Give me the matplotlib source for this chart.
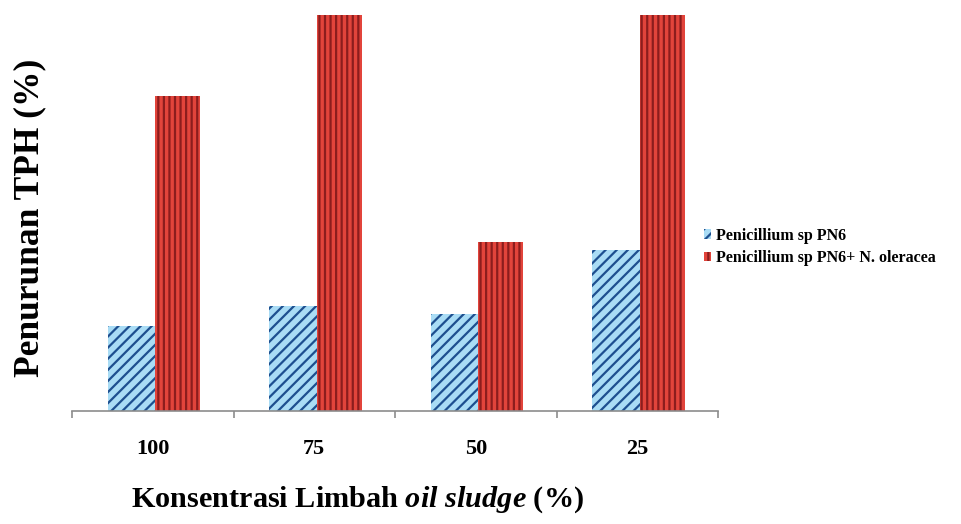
import numpy as np
import matplotlib.pyplot as plt
from matplotlib.ticker import FixedLocator

# data (percent reduction of TPH)
konsentrasi = ['100', '75', '50', '25']
pn6 = [21.5, 26.5, 24.5, 40.7]
pn6_oleracea = [79.5, 100, 42.7, 100]

plt.rcParams['font.family'] = ['Liberation Serif', 'DejaVu Serif']
plt.rcParams['font.weight'] = 'bold'
plt.rcParams['hatch.linewidth'] = 1.6
plt.rcParams['mathtext.fontset'] = 'custom'
plt.rcParams['mathtext.rm'] = 'Liberation Serif:bold'
plt.rcParams['mathtext.it'] = 'Liberation Serif:italic:bold'

W, H = 961, 524
fig = plt.figure(figsize=(W / 100, H / 100), dpi=100)
ax = fig.add_axes([72 / W, 1 - 411 / H, (718 - 72) / W, (411 - 15) / H])

x = np.arange(len(konsentrasi))
w = 0.295
ax.bar(x - w + 0.015, pn6, width=w, align='edge', color='#a9dcf5',
       edgecolor='#1d4f8f', linewidth=0, hatch='///',
       label='Penicillium sp PN6')
ax.bar(x + 0.015, pn6_oleracea, width=w - 0.015, align='edge', color='#e2443b',
       edgecolor='#8c1d1d', linewidth=0, hatch='|||',
       label='Penicillium sp PN6+ N. oleracea')

ax.set_xlim(-0.5, len(konsentrasi) - 0.5)
ax.set_ylim(0, 100)

for s in ['top', 'right', 'left']:
    ax.spines[s].set_visible(False)
ax.spines['bottom'].set_color('#8c8c8c')
ax.spines['bottom'].set_linewidth(1.2)
ax.set_yticks([])

ax.set_xticks(x)
ax.set_xticklabels(konsentrasi, fontsize=16, fontweight='bold')
ax.xaxis.set_minor_locator(FixedLocator(np.arange(-0.5, len(konsentrasi), 1.0)))
ax.tick_params(axis='x', which='major', length=0, pad=20)
ax.tick_params(axis='x', which='minor', length=5, width=1.2, color='#8c8c8c',
               direction='out')

fig.text(30 / W, 1 - 218 / H, 'Penurunan TPH (%)', rotation=90,
         ha='center', va='center', fontsize=25.5, fontweight='bold')
fig.text(358 / W, 1 - 500 / H, r'Konsentrasi Limbah $\mathit{oil\ sludge}$ (%)',
         ha='center', va='center', fontsize=21.8, fontweight='bold')

fig.legend(loc='center left', bbox_to_anchor=(704 / W, 1 - 247 / H),
           frameon=False, borderpad=0, borderaxespad=0,
           handlelength=0.45, handleheight=0.55, handletextpad=0.3,
           labelspacing=0.4, prop={'size': 11.5, 'weight': 'bold'})

fig.savefig('out.png', dpi=100)
